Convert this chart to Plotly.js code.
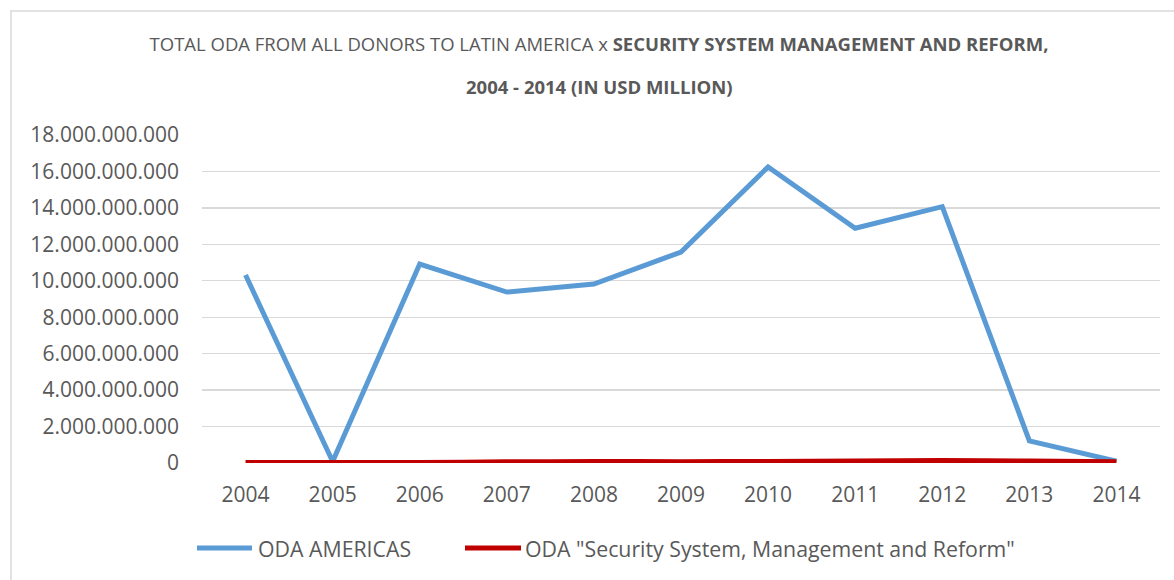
<!DOCTYPE html>
<html>
<head>
<meta charset="utf-8">
<script src="https://cdn.plot.ly/plotly-3.0.1.min.js"></script>
<style>html,body{margin:0;padding:0;background:#fff;}#chart{width:1174px;height:580px;}</style>
</head>
<body>
<div id="chart"></div>
<script>
const years = ['2004','2005','2006','2007','2008','2009','2010','2011','2012','2013','2014'];
const odaAmericas = [10320000000, 80000000, 10920000000, 9380000000, 9820000000, 11580000000, 16250000000, 12880000000, 14070000000, 1210000000, 100000000];
const odaSecurity = [10000000, 20000000, 20000000, 50000000, 70000000, 60000000, 70000000, 90000000, 130000000, 90000000, 60000000];
const seriesNames = ['ODA AMERICAS', 'ODA "Security System, Management and Reform"'];
const seriesColors = ['#5B9BD5', '#C00000'];
const yTicks = [0, 2000000000, 4000000000, 6000000000, 8000000000, 10000000000, 12000000000, 14000000000, 16000000000, 18000000000];
const titleLine1 = 'TOTAL ODA FROM ALL DONORS TO LATIN AMERICA x <b>SECURITY SYSTEM MANAGEMENT AND REFORM,</b>';
const titleLine2 = '<b>2004 - 2014 (IN USD MILLION)</b>';

const grey = '#595959';
// plot area in pixels: x 202..1160, y 135..463
const L = 202, R = 1160, T = 135, B = 463;
const px = v => (v - L) / (R - L);
const py = v => (B - v) / (B - T);

const traces = [
  {x: years, y: odaAmericas, name: seriesNames[0], type: 'scatter', mode: 'lines',
   line: {color: seriesColors[0], width: 5}, showlegend: false},
  {x: years, y: odaSecurity, name: seriesNames[1], type: 'scatter', mode: 'lines',
   line: {color: seriesColors[1], width: 5.5, shape: 'spline', smoothing: 0.6}, showlegend: false}
];

// manual legend (Excel-style long line samples)
const legendY = 548;
const legendItems = [
  {x0: 197, x1: 252, tx: 256},
  {x0: 465, x1: 521, tx: 523}
];
const shapes = [
  {type: 'rect', xref: 'paper', yref: 'paper',
   x0: px(11), x1: px(1185), y0: py(595), y1: py(11),
   line: {color: '#D9D9D9', width: 1.5}, fillcolor: 'rgba(0,0,0,0)', layer: 'below'}
];
const annotations = [
  {text: titleLine2, xref: 'paper', yref: 'paper', x: px(599), y: py(86),
   xanchor: 'center', yanchor: 'middle', showarrow: false,
   font: {family: 'Open Sans, sans-serif', size: 18.5, color: grey}}
];
legendItems.forEach((it, i) => {
  shapes.push({type: 'line', xref: 'paper', yref: 'paper',
    x0: px(it.x0), x1: px(it.x1), y0: py(legendY), y1: py(legendY),
    line: {color: seriesColors[i], width: 5}});
  annotations.push({text: seriesNames[i], xref: 'paper', yref: 'paper',
    x: px(it.tx), y: py(legendY), xanchor: 'left', yanchor: 'middle', showarrow: false,
    font: {family: 'Open Sans, sans-serif', size: 21.3, color: grey}});
});

const layout = {
  width: 1174, height: 580,
  paper_bgcolor: '#fff', plot_bgcolor: '#fff',
  separators: ',.',
  margin: {l: L, r: 1174 - R, t: T, b: 580 - B},
  font: {family: 'Open Sans, sans-serif', color: grey},
  title: {
    text: titleLine1,
    font: {family: 'Open Sans, sans-serif', size: 18.5, color: grey},
    x: 599 / 1174, xref: 'container', xanchor: 'center',
    y: 1 - 45 / 580, yref: 'container', yanchor: 'middle'
  },
  xaxis: {
    type: 'category', range: [-0.5, 10.5], showgrid: false, zeroline: false, showline: false,
    ticks: '', tickfont: {size: 21, color: grey}, ticklabelstandoff: 17
  },
  yaxis: {
    range: [0, 18000000000], tickvals: yTicks, tickformat: ',d',
    showgrid: true, gridcolor: '#D9D9D9', gridwidth: 1.3,
    zeroline: false, showline: false, ticks: '',
    tickfont: {size: 21, color: grey}, ticklabelstandoff: 22
  },
  showlegend: false,
  shapes: shapes,
  annotations: annotations
};
Plotly.newPlot('chart', traces, layout, {displayModeBar: false, staticPlot: true});
</script>
</body>
</html>
